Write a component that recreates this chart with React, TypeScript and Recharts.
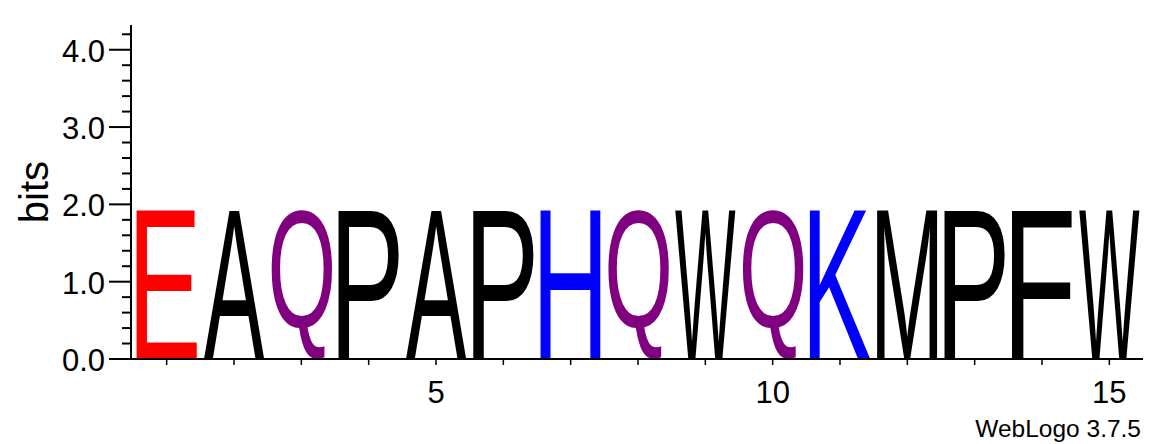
import { BarChart, Bar, XAxis, YAxis } from 'recharts';

// sequence logo columns
const positions = [1, 2, 3, 4, 5, 6, 7, 8, 9, 10, 11, 12, 13, 14, 15];
const letters = ['E', 'A', 'Q', 'P', 'A', 'P', 'H', 'Q', 'W', 'Q', 'K', 'M', 'P', 'F', 'W'];
const bits = [1.92, 1.92, 1.92, 1.92, 1.92, 1.92, 1.92, 1.92, 1.92, 1.92, 1.92, 1.92, 1.92, 1.92, 1.92];
const letterColors = [
  '#ff0000', '#000000', '#800080', '#000000', '#000000', '#000000', '#0000ff', '#800080',
  '#000000', '#800080', '#0000ff', '#000000', '#000000', '#000000', '#000000'
];

// axis ticks
const yTicks = [0, 0.2, 0.4, 0.6, 0.8, 1, 1.2, 1.4, 1.6, 1.8, 2, 2.2, 2.4, 2.6, 2.8, 3, 3.2, 3.4, 3.6, 3.8, 4, 4.2];
const yMajor = [0, 1, 2, 3, 4];
const xLabeled = [5, 10, 15];
const yMax = 4.32;

const FONT = '"Liberation Sans", Arial, Helvetica, sans-serif';

const data = positions.map((pos, i) => ({
  pos,
  letter: letters[i],
  bits: bits[i],
  color: letterColors[i]
}));

// tight glyph bounds, measured once per letter with a canvas
const glyphCache: Record<string, { left: number; right: number; asc: number; desc: number }> = {};
let ctx: CanvasRenderingContext2D | null = null;

function glyphBox(ch: string) {
  if (glyphCache[ch]) return glyphCache[ch];
  if (!ctx) ctx = document.createElement('canvas').getContext('2d');
  ctx!.font = '100px "Liberation Sans"';
  const m = ctx!.measureText(ch);
  const box = {
    left: m.actualBoundingBoxLeft,
    right: m.actualBoundingBoxRight,
    asc: m.actualBoundingBoxAscent,
    desc: m.actualBoundingBoxDescent
  };
  glyphCache[ch] = box;
  return box;
}

function LetterShape(props: any) {
  const { x, y, width, height, payload } = props;
  if (!height || height <= 0) return null;
  const b = glyphBox(payload.letter);
  const sx = width / (b.left + b.right);
  const sy = height / (b.asc + b.desc);
  return (
    <text
      transform={`translate(${x},${y}) scale(${sx},${sy}) translate(${b.left},${b.asc})`}
      x={0}
      y={0}
      fontSize={100}
      fontFamily="Liberation Sans"
      fill={payload.color}
    >
      {payload.letter}
    </text>
  );
}

function YTick(props: any) {
  const { x, y, payload } = props;
  const major = yMajor.some((v) => Math.abs(v - payload.value) < 1e-6);
  return (
    <g>
      <line x1={x - (major ? 22 : 9)} x2={x} y1={y} y2={y} stroke="#000" strokeWidth={2} />
      {major && (
        <text x={x - 26} y={y + 12} textAnchor="end" fontSize={31} fontFamily={FONT} fill="#000">
          {payload.value.toFixed(1)}
        </text>
      )}
    </g>
  );
}

function XTick(props: any) {
  const { x, y, payload } = props;
  if (!xLabeled.includes(payload.value)) return null;
  return (
    <text x={x} y={y + 38} textAnchor="middle" fontSize={31} fontFamily={FONT} fill="#000">
      {payload.value}
    </text>
  );
}

export default function App() {
  return (
    <div style={{ position: 'absolute', left: 0, top: 0, background: '#fff' }}>
      <BarChart
        width={1167}
        height={444}
        data={data}
        margin={{ top: 25, right: 24, bottom: 0, left: 0 }}
        barCategoryGap="5%"
      >
        <XAxis
          dataKey="pos"
          interval={0}
          height={85}
          padding={{ left: 2, right: 0 }}
          axisLine={{ stroke: '#000', strokeWidth: 2 }}
          tickLine={{ stroke: '#000', strokeWidth: 1.5 }}
          tickSize={6}
          tickMargin={0}
          tick={<XTick />}
          label={{
            content: () => (
              <text x={1141} y={437} textAnchor="end" fontSize={24.5} fontFamily={FONT} fill="#000">
                WebLogo 3.7.5
              </text>
            )
          }}
        />
        <YAxis
          type="number"
          domain={[0, yMax]}
          ticks={yTicks}
          interval={0}
          width={131}
          allowDataOverflow
          axisLine={{ stroke: '#000', strokeWidth: 2 }}
          tickLine={false}
          tickSize={0}
          tickMargin={0}
          tick={<YTick />}
          label={{
            content: () => (
              <text
                transform="translate(34,192) rotate(-90)"
                x={0}
                y={14}
                textAnchor="middle"
                fontSize={40}
                fontFamily={FONT}
                fill="#000"
              >
                bits
              </text>
            )
          }}
        />
        <Bar dataKey="bits" shape={<LetterShape />} isAnimationActive={false} />
      </BarChart>
    </div>
  );
}
